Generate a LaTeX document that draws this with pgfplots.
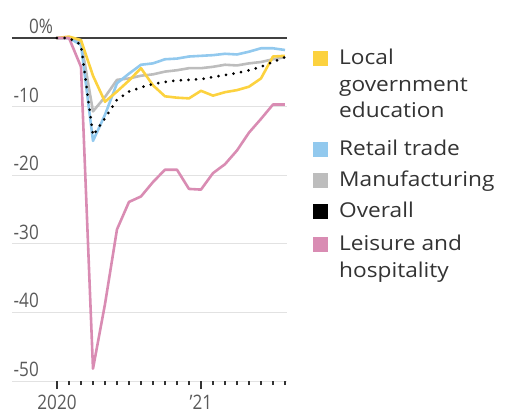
\documentclass[border=0pt]{standalone}
\usepackage{fontspec}
\setmainfont{Open Sans}[FakeStretch=1.11]
\newfontfamily\tickfont{Open Sans}[FakeStretch=0.86]
\usepackage{pgfplots}
\pgfplotsset{compat=1.18}
\definecolor{cyellow}{HTML}{FCD23F}
\definecolor{cblue}{HTML}{92C9EE}
\definecolor{cgray}{HTML}{BDBDBD}
\definecolor{cpink}{HTML}{D98CB3}
\definecolor{ctick}{HTML}{5A5A5A}
\definecolor{ctext}{HTML}{333333}
\definecolor{cgrid}{HTML}{E2E2E2}
\pgfplotstableread{
m  edu   retail manuf overall leisure
0  0.0   0.0    0.0   0.0     0.0
1  0.2   0.0    0.0   0.0     0.0
2  -0.3  -1.0   -0.5  -1.0    -4.2
3  -5.5  -15.0  -10.7 -14.2   -48.2
4  -9.3  -11.2  -8.6  -11.7   -38.8
5  -7.8  -6.6   -6.1  -9.0    -27.9
6  -6.2  -5.2   -5.9  -7.8    -23.9
7  -4.4  -3.9   -5.5  -7.2    -23.1
8  -6.9  -3.7   -5.3  -6.7    -21.0
9  -8.5  -3.1   -4.9  -6.4    -19.2
10 -8.7  -3.0   -4.7  -6.2    -19.2
11 -8.8  -2.7   -4.4  -6.1    -22.0
12 -7.7  -2.6   -4.4  -6.0    -22.1
13 -8.4  -2.5   -4.2  -5.7    -19.7
14 -7.9  -2.3   -3.9  -5.4    -18.4
15 -7.6  -2.4   -4.0  -5.1    -16.4
16 -7.1  -2.0   -3.7  -4.7    -13.8
17 -5.9  -1.5   -3.5  -4.2    -11.8
18 -2.7  -1.5   -3.1  -3.5    -9.7
19 -2.6  -1.75  -2.8  -2.8    -9.7
}\datatable
% legend helpers: baseline given in picture pixels from top
\newcommand\legsq[2]{\fill[#1] ([shift={(300.5bp,{381bp-#2bp-1.5bp})}]ax.south west) rectangle ([shift={(315.5bp,{381bp-#2bp+13.5bp})}]ax.south west);}
\newcommand\legtx[2]{\node[anchor=base west, inner sep=0pt, text=ctext, font=\fontsize{20.5}{20.5}\selectfont] at ([shift={(327bp,{381bp-#1bp})}]ax.south west) {#2};}
\begin{document}
\begin{tikzpicture}
\begin{axis}[
  name=ax,
  scale only axis, width=275bp, height=343bp,
  xmin=-3.75, xmax=19.17, ymin=-50, ymax=0,
  clip=false,
  axis line style={draw=none},
  ytick={-50,-40,-30,-20,-10,0},
  yticklabels={-50,-40,-30,-20,-10,0\rlap{\%}},
  ymajorgrids, grid style={draw=cgrid, line width=1bp},
  y tick style={draw=none},
  ytick pos=left, xtick pos=bottom,
  xtick={0,12}, xticklabels={2020,’21},
  minor xtick={1,2,3,4,5,6,7,8,9,10,11,13,14,15,16,17,18,19},
  tick align=outside, major tick length=8bp, minor tick length=4bp,
  x tick style={draw=ctext, line width=1.2bp},
  xticklabel style={font=\tickfont\fontsize{20}{20}\selectfont, text=ctick, anchor=base, inner sep=0pt, yshift=-20bp},
  yticklabel style={font=\tickfont\fontsize{20}{20}\selectfont, text=ctick, anchor=base east, inner sep=0pt, xshift=35bp, yshift=4.5bp},
]
\addplot[color=black!75, line width=1.2bp] coordinates {(-3.75,0) (19.17,0)};
\addplot[color=cgray, line width=2.6bp, line join=round] table[x=m,y=manuf] {\datatable};
\addplot[color=cblue, line width=2.6bp, line join=round] table[x=m,y=retail] {\datatable};
\addplot[color=cyellow, line width=2.6bp, line join=round] table[x=m,y=edu] {\datatable};
\addplot[color=cpink, line width=2.6bp, line join=round] table[x=m,y=leisure] {\datatable};
\addplot[color=black, line width=3bp, line cap=round, dash pattern=on 0pt off 7.6bp] table[x=m,y=overall] {\datatable};
\end{axis}
% legend
\legsq{cyellow}{65}
\legtx{65}{Local}
\legtx{91.5}{government}
\legtx{118}{education}
\legsq{cblue}{156}
\legtx{156}{Retail trade}
\legsq{cgray}{187}
\legtx{187}{Manufacturing}
\legsq{black}{218}
\legtx{218}{Overall}
\legsq{cpink}{251}
\legtx{251}{Leisure and}
\legtx{278}{hospitality}
\pgfresetboundingbox
\path ([shift={(-12bp,-34bp)}]ax.south west) rectangle ([shift={(493bp,381bp)}]ax.south west);
\end{tikzpicture}
\end{document}
